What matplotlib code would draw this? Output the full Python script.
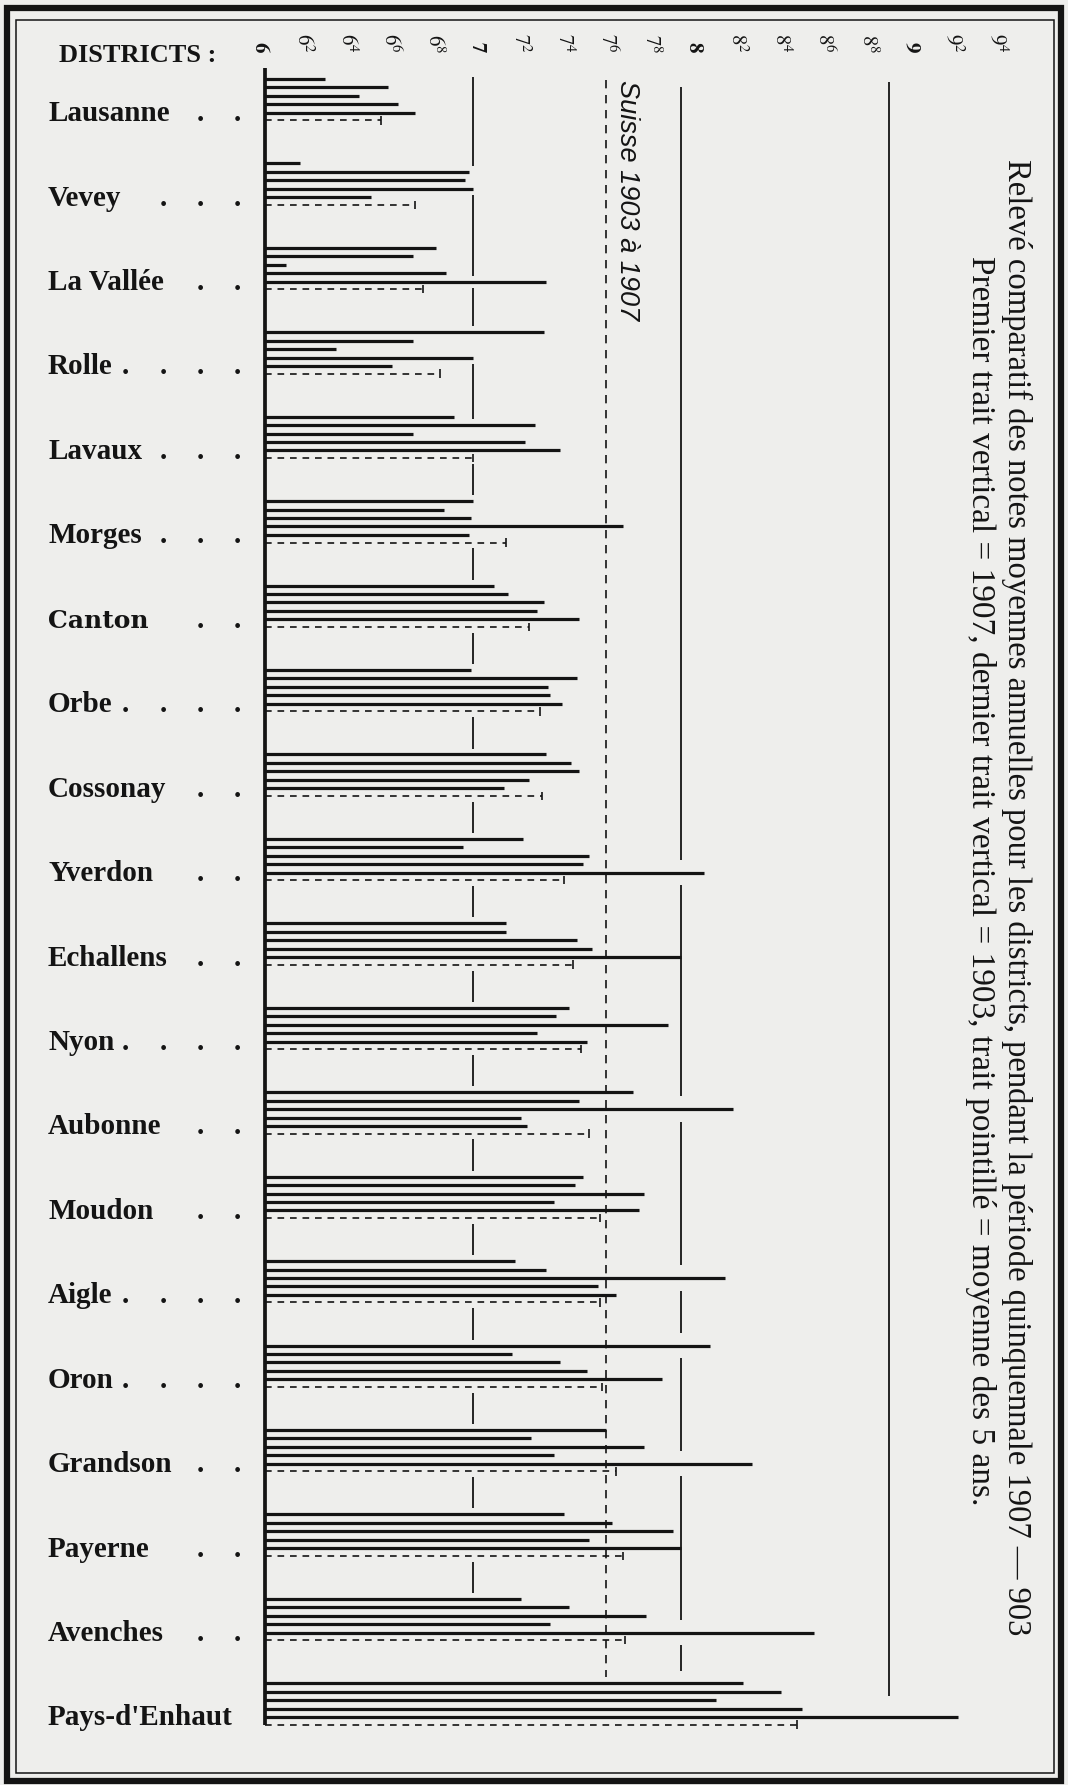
import matplotlib
matplotlib.use('Agg')
import matplotlib.pyplot as plt
from matplotlib.patches import Rectangle

# notes moyennes annuelles par district, 1907 (premier trait) -> 1903 (dernier trait)
districts = ['Lausanne', 'Vevey', 'La Vallée', 'Rolle', 'Lavaux', 'Morges', 'Canton',
             'Orbe', 'Cossonay', 'Yverdon', 'Echallens', 'Nyon', 'Aubonne', 'Moudon',
             'Aigle', 'Oron', 'Grandson', 'Payerne', 'Avenches', "Pays-d'Enhaut"]
n1907 = [6.29, 6.17, 6.82, 7.34, 6.91, 7.00, 7.10, 6.99, 7.35, 7.24,
         7.16, 7.46, 7.77, 7.53, 7.20, 8.14, 7.64, 7.44, 7.23, 8.30]
n1906 = [6.59, 6.98, 6.71, 6.71, 7.30, 6.86, 7.17, 7.50, 7.47, 6.95,
         7.16, 7.40, 7.51, 7.49, 7.35, 7.19, 7.28, 7.67, 7.46, 8.48]
n1905 = [6.45, 6.96, 6.10, 6.34, 6.71, 6.99, 7.34, 7.36, 7.51, 7.56,
         7.50, 7.94, 8.25, 7.82, 8.21, 7.42, 7.82, 7.96, 7.83, 8.17]
n1904 = [6.64, 7.00, 6.87, 7.00, 7.25, 7.72, 7.31, 7.37, 7.27, 7.53,
         7.57, 7.31, 7.23, 7.39, 7.60, 7.55, 7.39, 7.56, 7.37, 8.58]
n1903 = [6.72, 6.51, 7.35, 6.61, 7.42, 6.98, 7.51, 7.43, 7.15, 8.11,
         8.00, 7.55, 7.26, 7.80, 7.69, 7.91, 8.34, 8.00, 8.64, 9.33]
moyenne = [6.56, 6.72, 6.76, 6.84, 7.00, 7.16, 7.27, 7.32, 7.33, 7.44,
           7.48, 7.52, 7.56, 7.61, 7.61, 7.62, 7.69, 7.72, 7.73, 8.56]
suisse = 7.64
leader_dots = [2, 3, 2, 4, 3, 3, 2, 4, 2, 2, 2, 4, 2, 2, 4, 4, 2, 2, 2, 0]

tick_vals = [6.0, 6.2, 6.4, 6.6, 6.8, 7.0, 7.2, 7.4, 7.6, 7.8,
             8.0, 8.2, 8.4, 8.6, 8.8, 9.0, 9.2, 9.4]
tick_labels = [r'$\mathbf{6}$', r'$6^{2}$', r'$6^{4}$', r'$6^{6}$', r'$6^{8}$',
               r'$\mathbf{7}$', r'$7^{2}$', r'$7^{4}$', r'$7^{6}$', r'$7^{8}$',
               r'$\mathbf{8}$', r'$8^{2}$', r'$8^{4}$', r'$8^{6}$', r'$8^{8}$',
               r'$\mathbf{9}$', r'$9^{2}$', r'$9^{4}$']

title1 = ('Relevé comparatif des notes moyennes annuelles pour les districts, '
          'pendant la période quinquennale 1907 — 903')
title2 = ('Premier trait vertical = 1907, dernier trait vertical = 1903, '
          'trait pointillé = moyenne des 5 ans.')

paper = '#eeeeec'
ink = '#141414'
serif = 'Liberation Serif'

plt.rcParams['mathtext.fontset'] = 'stix'

W, H = 1068, 1785
fig = plt.figure(figsize=(W / 100, H / 100), dpi=100, facecolor=paper)
ax = fig.add_axes([0, 0, 1, 1])
ax.set_facecolor(paper)
ax.set_xlim(4.726, 9.861)
ax.set_ylim(19.805, -1.335)
for s in ax.spines.values():
    s.set_visible(False)
ax.set_xticks([])
ax.set_yticks([])

years = [n1907, n1906, n1905, n1904, n1903]
offsets = [-0.40, -0.30, -0.20, -0.10, 0.0]
avg_off = 0.09
ng = len(districts)

# horizontal traits
for k, vals in enumerate(years):
    ys = [i + offsets[k] for i in range(ng)]
    ax.hlines(ys, 6, vals, colors=ink, lw=2.3)

# trait pointille = moyenne
ys_avg = [i + avg_off for i in range(ng)]
ax.hlines(ys_avg, 6, moyenne, colors=ink, lw=1.2, linestyles=(0, (4, 3.5)))
ax.vlines(moyenne, [y - 0.05 for y in ys_avg], [y + 0.05 for y in ys_avg], colors=ink, lw=1.2)

# base line at 6
ax.vlines(6, -0.53, ng - 1 + avg_off + 0.01, colors=ink, lw=2.7)


# vertical reference lines, broken where traits cross them
def ref_segments(xv, thr, pad, top, bottom):
    cuts = []
    for i in range(ng):
        offs = [offsets[k] for k in range(5) if years[k][i] > thr]
        if moyenne[i] > thr:
            offs.append(avg_off)
        if offs:
            cuts.append((i + min(offs) - pad, i + max(offs) + pad))
    segs = []
    start = top
    for a, b in cuts:
        if a > start and a < bottom:
            segs.append((start, a))
        start = max(start, b)
    if start < bottom:
        segs.append((start, bottom))
    for a, b in segs:
        ax.vlines(xv, a, b, colors=ink, lw=1.3)


ref_segments(7, 6.95, 0.07, -0.42, ng - 1 - 0.47)
ref_segments(8, 8.03, 0.15, -0.31, ng - 1 - 0.47)
ax.vlines(9, -0.36, ng - 1 - 0.25, colors=ink, lw=1.3)

# Suisse 1903 a 1907
ax.vlines(suisse, -0.39, ng - 1 - 0.47, colors=ink, lw=1.2, linestyles=(0, (5, 4)))
ax.text(7.74, -0.39, 'Suisse 1903 à 1907', rotation=-90, ha='center', va='top',
        fontfamily='Liberation Sans', fontstyle='italic', fontsize=19.5, color=ink)

# district labels and leader dots
dot_cols = [5.327, 5.51, 5.6875, 5.865]
for i, name in enumerate(districts):
    if name == 'Canton':
        ax.text(4.957, i + 0.10, name, fontfamily='DejaVu Serif', fontweight='bold',
                fontsize=18, va='baseline', ha='left', color=ink)
    else:
        ax.text(4.957, i + 0.10, name, fontfamily=serif, fontweight='bold',
                fontsize=21, va='baseline', ha='left', color=ink)
    nd = leader_dots[i]
    if nd:
        for xd in dot_cols[-nd:]:
            ax.text(xd, i + 0.10, '.', fontfamily=serif, fontweight='bold',
                    fontsize=21, va='baseline', ha='center', color=ink)

ax.text(5.01, -0.683, 'DISTRICTS :', fontfamily=serif, fontweight='bold',
        fontsize=19, va='center', ha='left', color=ink)

# scale labels at top
def fwd(x):
    return 6 + ((x - 6) * 208 + 4) / 217


def inv(s):
    return 6 + ((s - 6) * 217 - 4) / 208


secax = ax.secondary_xaxis(1 - 53 / H, functions=(fwd, inv))
secax.set_xticks(tick_vals, labels=tick_labels)
secax.tick_params(axis='x', length=0, pad=0, labelrotation=-90, labelsize=15, colors=ink)
for s in secax.spines.values():
    s.set_visible(False)

# title on the right
ax.text(9.615, 0.553, title1, rotation=-90, ha='center', va='top',
        fontfamily=serif, fontsize=23.5, color=ink)
ax.text(9.44, 1.70, title2, rotation=-90, ha='center', va='top',
        fontfamily=serif, fontsize=24, color=ink)

# page frame
fig.add_artist(Rectangle((7 / W, 4 / H), 1 - 14 / W, 1 - 12 / H, transform=fig.transFigure,
                         fill=False, ec=ink, lw=4.5))
fig.add_artist(Rectangle((16 / W, 12 / H), 1 - 30 / W, 1 - 32 / H, transform=fig.transFigure,
                         fill=False, ec=ink, lw=1.1))

fig.savefig('out.png', dpi=100, facecolor=paper)
